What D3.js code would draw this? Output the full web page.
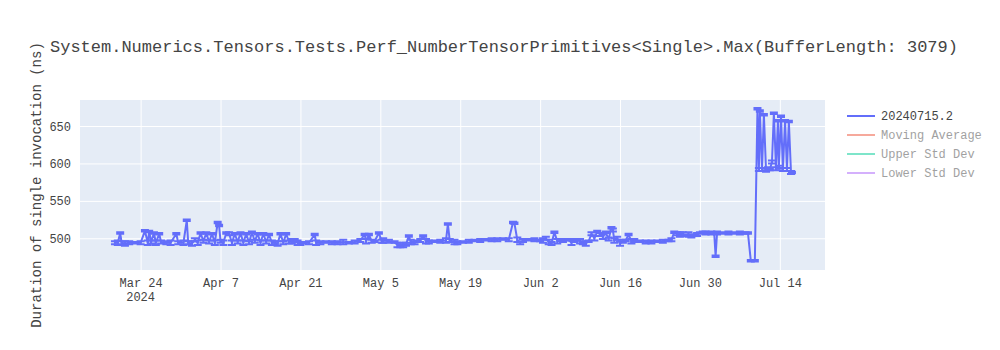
<!DOCTYPE html>
<html>
<head>
<meta charset="utf-8">
<script src="https://cdn.jsdelivr.net/npm/d3@7"></script>
<style>
  body { margin: 0; background: #fff; }
  svg text { font-family: 'Liberation Mono', 'Courier New', monospace; fill: #444; }
</style>
</head>
<body>
<div id="graf"></div>
<script>
// Datos (fecha, duracion en ns, desviacion)
const fechas = [
  '03-19T12','03-20T00','03-20T10','03-20T16','03-21T06','03-22T00','03-23T00','03-24T00','03-24T18','03-25T06',
  '03-25T12','03-25T20','03-26T08','03-26T16','03-27T06','03-27T14','03-28T12','03-29T06','03-30T06','03-30T14',
  '03-31T12','04-01T02','04-01T08','04-02T00','04-02T12','04-03T00','04-03T12','04-04T00','04-04T12','04-05T00',
  '04-05T12','04-06T00','04-06T12','04-06T18','04-07T00','04-07T12','04-08T00','04-08T12','04-09T00','04-09T12',
  '04-10T00','04-10T12','04-11T00','04-11T12','04-12T00','04-12T12','04-13T00','04-13T12','04-14T00','04-14T12',
  '04-15T00','04-15T12','04-16T00','04-16T12','04-17T00','04-17T12','04-18T00','04-18T12','04-19T00','04-19T12',
  '04-20T00','04-20T12','04-21T00','04-21T12','04-22T12','04-23T12','04-23T18','04-24T12','04-25T12','04-26T12',
  '04-27T12','04-28T12','04-29T12','04-30T12','05-01T12','05-02T06','05-02T12','05-03T00','05-03T12','05-04T00',
  '05-04T18','05-05T06','05-05T12','05-06T12','05-07T12','05-08T00','05-08T12','05-09T00','05-09T12','05-10T00',
  '05-10T08','05-11T00','05-11T12','05-12T00','05-12T12','05-13T00','05-13T12','05-14T12','05-15T12','05-16T12',
  '05-16T20','05-17T04','05-18T00','05-18T12','05-19T12','05-20T12','05-21T12','05-22T12','05-23T12','05-24T12',
  '05-25T12','05-26T12','05-27T12','05-28T06','05-28T12','05-29T00','05-29T12','05-30T00','05-31T00','06-01T00',
  '06-02T00','06-02T12','06-03T00','06-03T12','06-04T00','06-04T12','06-05T00','06-06T00','06-07T00','06-07T12',
  '06-08T00','06-08T12','06-09T00','06-09T12','06-10T00','06-10T12','06-11T00','06-11T12','06-12T00','06-12T12',
  '06-13T00','06-13T12','06-14T00','06-14T12','06-14T18','06-15T00','06-15T12','06-16T00','06-16T12','06-17T00',
  '06-17T12','06-18T00','06-18T12','06-19T12','06-20T12','06-21T12','06-22T12','06-23T12','06-24T12','06-25T00',
  '06-25T12','06-26T00','06-26T12','06-27T00','06-27T12','06-28T00','06-28T12','06-29T00','06-29T12','06-30T00',
  '06-30T12','07-01T00','07-01T12','07-02T00','07-02T12','07-02T18','07-03T00','07-04T00','07-05T00','07-06T00',
  '07-07T00','07-08T00','07-08T10','07-08T22','07-09T15','07-10T02','07-10T08','07-10T12','07-10T21','07-11T05',
  '07-11T14','07-11T22','07-12T06','07-12T15','07-12T23','07-13T08','07-13T16','07-13T20','07-14T05','07-14T13',
  '07-14T22','07-15T06','07-15T14','07-15T23','07-16T03'
]
const duraciones = [
  494,494,507,494,493,494,494,494,510,494,
  509,495,507,494,506,495,494,494,506,494,
  494,524,494,493,498,494,507,496,507,495,
  506,494,521,517,496,494,507,506,494,506,
  495,507,494,506,494,508,496,506,494,506,
  495,505,494,494,493,506,494,506,495,496,
  497,494,493,494,494,505,494,494,495,494,
  494,495,494,495,497,505,496,505,496,496,
  507,496,497,496,495,491,490,491,492,503,
  495,494,496,497,503,496,495,496,496,497,
  519,497,495,494,495,496,497,497,498,498,
  498,499,498,521,520,498,494,497,498,498,
  497,497,500,495,493,508,496,497,498,494,
  497,498,496,494,493,496,506,500,509,505,
  502,508,499,514,511,497,500,493,496,497,
  505,496,497,496,495,495,496,496,497,498,
  508,506,505,506,504,505,503,504,505,507,
  508,507,507,507,507,476,507,507,507,507,
  507,507,507,470,470,673,592,670,592,665,
  591,593,592,602,667,593,657,595,663,592,
  657,592,656,588,588
]
const desviaciones = [
  2,3,1,2,3,2,1,2,1,3,
  1,2,1,3,1,2,2,3,1,2,
  3,1,2,3,2,3,1,2,1,2,
  1,3,1,1,2,3,1,2,3,1,
  2,1,3,1,2,1,2,1,3,1,
  2,1,3,2,3,1,2,1,2,3,
  2,3,2,1,2,1,3,2,1,2,
  2,3,1,2,2,1,3,1,2,1,
  1,2,3,2,1,3,2,3,2,1,
  3,2,1,2,1,3,2,1,2,3,
  1,2,3,2,1,2,1,2,1,2,
  2,1,2,1,1,3,2,2,1,2,
  1,3,2,3,2,1,3,2,1,3,
  2,1,3,2,3,1,2,3,1,2,
  3,1,2,1,2,3,2,3,2,1,
  1,3,2,1,2,2,1,2,1,2,
  1,2,3,2,1,3,2,1,2,1,
  1,2,1,2,1,1,2,1,2,1,
  2,1,1,1,1,1,2,1,2,1,
  2,2,1,2,1,2,1,2,1,2,
  1,2,1,2,1
]
const ticksX = ['2024-03-24','2024-04-07','2024-04-21','2024-05-05','2024-05-19','2024-06-02','2024-06-16','2024-06-30','2024-07-14']
const ticksY = [500, 550, 600, 650]
const nombresLeyenda = ['20240715.2', 'Moving Average', 'Upper Std Dev', 'Lower Std Dev']
const coloresLeyenda = ['#636efa', '#EF553B', '#00cc96', '#ab63fa']
const opacidadLeyenda = [1, 0.5, 0.5, 0.5]
const titulo = 'System.Numerics.Tensors.Tests.Perf_NumberTensorPrimitives<Single>.Max(BufferLength: 3079)'
const tituloY = 'Duration of single invocation (ns)'

// Tamaños y margenes
anchoTotal = 1000
altoTotal = 350
margen = { superior: 100, izquierdo: 80, derecho: 175, inferior: 80 }
ancho = anchoTotal - margen.izquierdo - margen.derecho
alto = altoTotal - margen.superior - margen.inferior

parseFecha = d3.timeParse('%Y-%m-%dT%H')
datos = fechas.map((f, i) => ({ fecha: parseFecha('2024-' + f), valor: duraciones[i], err: desviaciones[i] }))

svg = d3.select('#graf').append('svg')
  .attr('width', anchoTotal)
  .attr('height', altoTotal)

svg.append('text')
  .attr('x', 50).attr('y', 52)
  .style('font-size', '17px')
  .text(titulo)

g = svg.append('g').attr('transform', `translate(${margen.izquierdo}, ${margen.superior})`)

g.append('rect').attr('width', ancho).attr('height', alto).attr('fill', '#e5ecf6')

// Escaladores
x = d3.scaleTime()
  .domain([new Date(2024, 2, 13, 9), new Date(2024, 6, 21, 22)])
  .range([0, ancho])
y = d3.scaleLinear().domain([457.6, 684.8]).range([alto, 0])

// Ejes con lineas de cuadricula blancas
xAxisGroup = g.append('g').attr('transform', `translate(0, ${alto})`)
xAxisGroup.call(d3.axisBottom(x)
  .tickValues(ticksX.map(d => d3.timeParse('%Y-%m-%d')(d)))
  .tickFormat(d3.timeFormat('%b %-d'))
  .tickSize(-alto))
yAxisGroup = g.append('g')
yAxisGroup.call(d3.axisLeft(y).tickValues(ticksY).tickSize(-ancho))

;[xAxisGroup, yAxisGroup].forEach(a => {
  a.select('.domain').remove()
  a.selectAll('line').attr('stroke', '#fff').attr('stroke-width', 1)
  a.selectAll('text').style('font-size', '12px').attr('fill', '#444')
})
xAxisGroup.selectAll('text').attr('y', 17).attr('dy', 0)
yAxisGroup.selectAll('text').attr('x', -9).attr('dy', 4)

g.append('text')
  .attr('x', x(parseFecha('2024-03-24T00'))).attr('y', alto + 31)
  .attr('text-anchor', 'middle')
  .style('font-size', '12px')
  .text('2024')

svg.append('text')
  .attr('transform', `translate(41, ${margen.superior + alto / 2}) rotate(-90)`)
  .attr('text-anchor', 'middle')
  .style('font-size', '14px')
  .text(tituloY)

// Serie con barras de error
area = g.append('g')
linea = d3.line().x(d => x(d.fecha)).y(d => y(d.valor))
area.append('path')
  .datum(datos)
  .attr('fill', 'none')
  .attr('stroke', '#636efa')
  .attr('stroke-width', 2)
  .attr('stroke-linejoin', 'round')
  .attr('d', linea)

barras = area.selectAll('.barra').data(datos).enter().append('path')
  .attr('class', 'barra')
  .attr('fill', 'none')
  .attr('stroke', '#636efa')
  .attr('stroke-width', 2)
  .attr('d', d => {
    px = x(d.fecha)
    y1 = y(d.valor + d.err)
    y0 = y(d.valor - d.err)
    return `M${px - 4},${y1}h8M${px},${y1}V${y0}M${px - 4},${y0}h8`
  })

// Leyenda
leyenda = svg.append('g')
nombresLeyenda.forEach((n, i) => {
  item = leyenda.append('g')
    .attr('transform', `translate(847, ${116 + i * 19})`)
    .attr('opacity', opacidadLeyenda[i])
  item.append('line').attr('x1', 0).attr('x2', 28)
    .attr('stroke', coloresLeyenda[i]).attr('stroke-width', 2)
  item.append('text').attr('x', 34).attr('y', 4)
    .style('font-size', '12px')
    .text(n)
})
</script>
</body>
</html>
